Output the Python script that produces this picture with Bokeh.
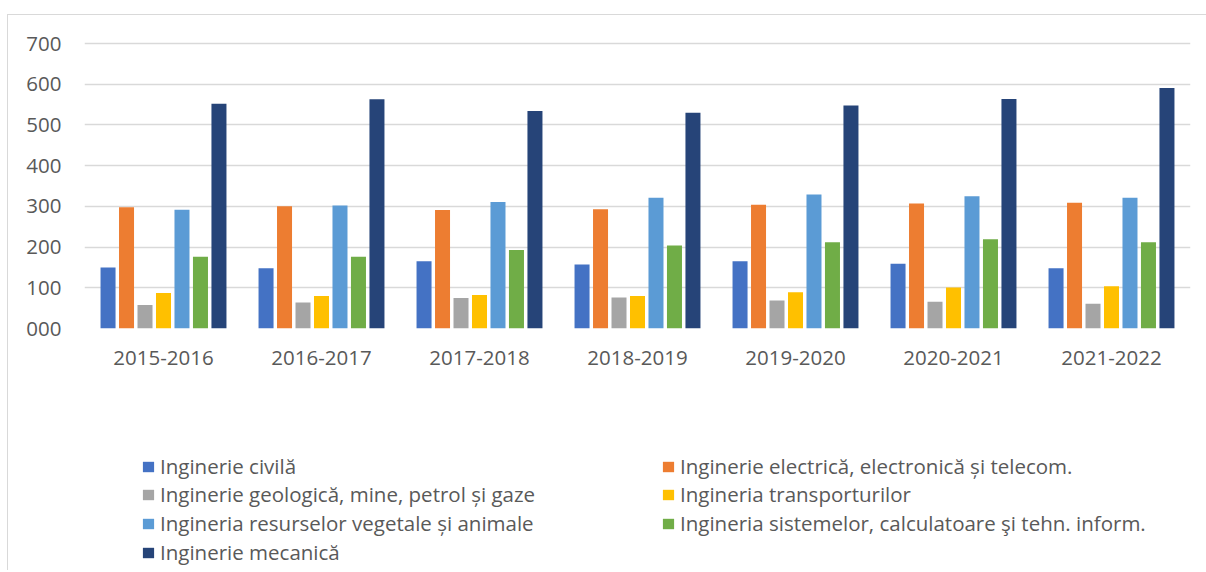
from bokeh.plotting import figure
from bokeh.layouts import column
from bokeh.models import (ColumnDataSource, FactorRange, Range1d, Legend, LegendItem,
                          PrintfTickFormatter)
from bokeh.transform import dodge
from bokeh.embed import file_html
from bokeh.resources import INLINE

years = ["2015-2016", "2016-2017", "2017-2018", "2018-2019", "2019-2020", "2020-2021", "2021-2022"]

series_names = [
    "Inginerie civilă",
    "Inginerie electrică, electronică și telecom.",
    "Inginerie geologică, mine, petrol și gaze",
    "Ingineria transporturilor",
    "Ingineria resurselor vegetale și animale",
    "Ingineria sistemelor, calculatoare şi tehn. inform.",
    "Inginerie mecanică",
]

civila = [150, 148, 165, 157, 165, 159, 148]
electrica = [298, 300, 291, 293, 304, 307, 309]
geologica = [58, 64, 75, 76, 69, 66, 61]
transporturi = [87, 80, 82, 80, 89, 101, 104]
resurse = [292, 302, 311, 321, 329, 325, 321]
sisteme = [176, 176, 193, 204, 212, 219, 212]
mecanica = [552, 563, 534, 530, 548, 564, 591]

y_ticks = [0, 100, 200, 300, 400, 500, 600, 700]

colors = ["#4472C4", "#ED7D31", "#A5A5A5", "#FFC000", "#5B9BD5", "#70AD47", "#264478"]
keys = ["civila", "electrica", "geologica", "transporturi", "resurse", "sisteme", "mecanica"]
values = [civila, electrica, geologica, transporturi, resurse, sisteme, mecanica]

data = {"years": years}
for k, v in zip(keys, values):
    data[k] = v
source = ColumnDataSource(data)

FONT = "Open Sans"
TXT = "#595959"
FS = "20.5px"

# ---------------- main chart ----------------
p = figure(
    x_range=FactorRange(*years, range_padding=0),
    y_range=Range1d(0, 705),
    width=1198, height=373,
    min_border_left=76, min_border_right=16, min_border_top=26, min_border_bottom=60,
    output_backend="svg", toolbar_location=None,
)
p.outline_line_color = None

step = 0.117
bw = 0.095
for i, (k, c) in enumerate(zip(keys, colors)):
    p.vbar(x=dodge("years", (i - 3) * step, range=p.x_range), top=k, width=bw,
           source=source, fill_color=c, line_color=None)

p.xgrid.grid_line_color = None
p.ygrid.grid_line_color = "#d9d9d9"
p.ygrid.grid_line_width = 1.5

p.yaxis.ticker = y_ticks
p.yaxis.formatter = PrintfTickFormatter(format="%03d")
for ax in (p.xaxis[0], p.yaxis[0]):
    ax.axis_line_color = None
    ax.major_tick_line_color = None
    ax.minor_tick_line_color = None
    ax.major_label_text_font = FONT
    ax.major_label_text_font_size = FS
    ax.major_label_text_color = TXT
p.yaxis.major_label_standoff = 17
p.xaxis.major_label_standoff = 16

# ---------------- legend panel ----------------
q = figure(
    x_range=Range1d(0, 1), y_range=Range1d(0, 1),
    width=1198, height=182,
    min_border_left=76, min_border_right=16, min_border_top=0, min_border_bottom=0,
    x_axis_location=None, y_axis_location=None,
    output_backend="svg", toolbar_location=None,
)
q.outline_line_color = None
q.grid.visible = False

swatches = []
for c in colors:
    swatches.append(q.vbar(x=[0.5], top=[0], bottom=[0], width=0, fill_color=c, line_color=None))

# (series index, x offset in frame, y offset of legend bottom)
legend_slots = [
    (0, 57, 90), (2, 57, 62), (4, 57, 33), (6, 57, 4),
    (1, 577, 90), (3, 577, 62), (5, 577, 33),
]
for idx, lx, ly in legend_slots:
    lg = Legend(items=[LegendItem(label=series_names[idx], renderers=[swatches[idx]])],
                location=(lx, ly))
    lg.label_text_font = FONT
    lg.label_text_font_size = FS
    lg.label_text_color = TXT
    lg.glyph_width = 14
    lg.glyph_height = 13
    lg.label_standoff = 5
    lg.padding = 0
    lg.margin = 0
    lg.border_line_color = None
    lg.background_fill_alpha = 0
    q.add_layout(lg, "center")

layout = column(p, q, spacing=0, margin=(14, 0, 0, 7),
                styles={"border-top": "1px solid #d9d9d9", "border-left": "1px solid #d9d9d9"})

open("out.html", "w").write(file_html(layout, INLINE))
